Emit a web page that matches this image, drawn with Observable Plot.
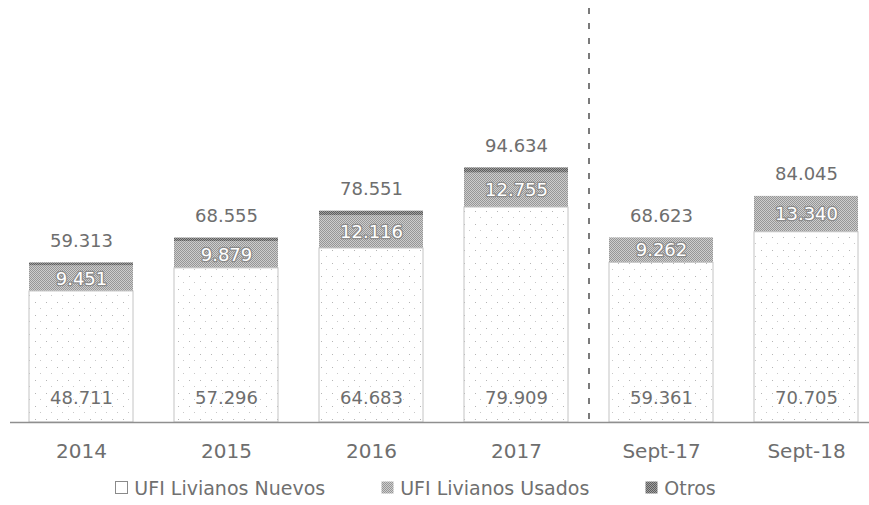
<!DOCTYPE html>
<html><head><meta charset="utf-8">
<script src="https://cdn.jsdelivr.net/npm/d3@7"></script>
<script src="https://cdn.jsdelivr.net/npm/@observablehq/plot@0.6"></script>
<style>
body{margin:0;background:#fff;font-family:"DejaVu Sans",sans-serif;}
#legend{display:flex;justify-content:center;gap:56px;font-size:19px;color:#707070;height:35px;align-items:center;padding-right:38px;}
#legend span{display:inline-flex;align-items:center;}
#legend svg{margin-right:6px;}
</style></head><body>
<div id="chart"></div>
<div id="legend"></div>
<script>
const periods = ["2014","2015","2016","2017","Sept-17","Sept-18"];
const seriesNames = ["UFI Livianos Nuevos","UFI Livianos Usados","Otros"];
const nuevos = [48711,57296,64683,79909,59361,70705];
const usados = [9451,9879,12116,12755,9262,13340];
const otros  = [1151,1380,1752,1970,0,0];
const totals = [59313,68555,78551,94634,68623,84045];
const separatorBefore = "Sept-17";

const rows = [];
periods.forEach((p,i)=>{
  rows.push({period:p, series:seriesNames[0], value:nuevos[i]});
  rows.push({period:p, series:seriesNames[1], value:usados[i]});
  rows.push({period:p, series:seriesNames[2], value:otros[i]});
});
const per = periods.map((p,i)=>({period:p, nuevos:nuevos[i], usados:usados[i], total:totals[i]}));

const fmt = d3.formatLocale({thousands:".", grouping:[3], decimal:",", currency:["",""]}).format(",d");

const xRange=[9,879], padInner=0.28, padOuter=0.14;
const step=(xRange[1]-xRange[0])/(periods.length-padInner+2*padOuter);
const txt="#6e6e6e";

const plot = Plot.plot({
  width:869, height:470,
  marginTop:8, marginBottom:48, marginLeft:10, marginRight:0,
  style:{fontFamily:"DejaVu Sans, sans-serif", background:"#fff"},
  x:{type:"band", domain:periods, range:xRange, paddingInner:padInner, paddingOuter:padOuter, axis:null},
  y:{domain:[0,155000], range:[422,5], axis:null},
  color:{domain:seriesNames, range:["url(#pN)","url(#pU)","url(#pO)"]},
  marks:[
    Plot.barY(rows, Plot.stackY({x:"period", y:"value", fill:"series", order:null})),
    Plot.barY(per, {x:"period", y:"nuevos", fill:"none", stroke:"#c4c4c4", strokeWidth:1}),
    Plot.ruleY([0], {stroke:"#8f8f8f", strokeWidth:1.5}),
    Plot.ruleX([separatorBefore], {x:d=>d, dx:-step/2, stroke:"#7a7a7a", strokeWidth:2, strokeDasharray:"6,9"}),
    Plot.text(per, {x:"period", y:"total", text:d=>fmt(d.total), dy:-22, fill:txt, fontSize:18}),
    Plot.text(per, {x:"period", y:d=>d.nuevos+d.usados/2, text:d=>fmt(d.usados), fill:"#fff", stroke:"#8a8a8a", strokeWidth:2.5, fontSize:18}),
    Plot.text(per, {x:"period", y:0, text:d=>fmt(d.nuevos), dy:-24, fill:txt, stroke:"#fff", strokeWidth:3, fontSize:18}),
    Plot.axisX({tickSize:0, tickPadding:21, fontSize:20, color:txt, label:null})
  ]
});
const svg = d3.select(plot);
const defs = svg.insert("defs", ":first-child");
const pn = defs.append("pattern").attr("id","pN").attr("patternUnits","userSpaceOnUse").attr("width",11).attr("height",13);
pn.append("rect").attr("width",11).attr("height",13).attr("fill","#fff");
pn.append("rect").attr("x",2).attr("y",3).attr("width",1).attr("height",1).attr("fill","#b5b5b5");
pn.append("rect").attr("x",7).attr("y",9).attr("width",1).attr("height",1).attr("fill","#c8c8c8");
const pu = defs.append("pattern").attr("id","pU").attr("patternUnits","userSpaceOnUse").attr("width",2).attr("height",2);
pu.append("rect").attr("width",2).attr("height",2).attr("fill","#cdcdcd");
pu.append("rect").attr("width",1).attr("height",1).attr("fill","#969696");
pu.append("rect").attr("x",1).attr("y",1).attr("width",1).attr("height",1).attr("fill","#969696");
const po = defs.append("pattern").attr("id","pO").attr("patternUnits","userSpaceOnUse").attr("width",2).attr("height",2);
po.append("rect").attr("width",2).attr("height",2).attr("fill","#a0a0a0");
po.append("rect").attr("width",1).attr("height",1).attr("fill","#5e5e5e");
po.append("rect").attr("x",1).attr("y",1).attr("width",1).attr("height",1).attr("fill","#5e5e5e");
svg.selectAll("text").attr("paint-order","stroke");
document.getElementById("chart").appendChild(plot);

const leg = d3.select("#legend");
const swatchFill = ["#fff","url(#pU)","url(#pO)"];
seriesNames.forEach((s,i)=>{
  const it = leg.append("span");
  const sv = it.append("svg").attr("width",13).attr("height",13);
  sv.append("rect").attr("x",0.5).attr("y",0.5).attr("width",12).attr("height",12)
    .attr("fill",swatchFill[i]).attr("stroke", i===0?"#8a8a8a":"none");
  it.append("span").text(s);
});
</script>
</body></html>
